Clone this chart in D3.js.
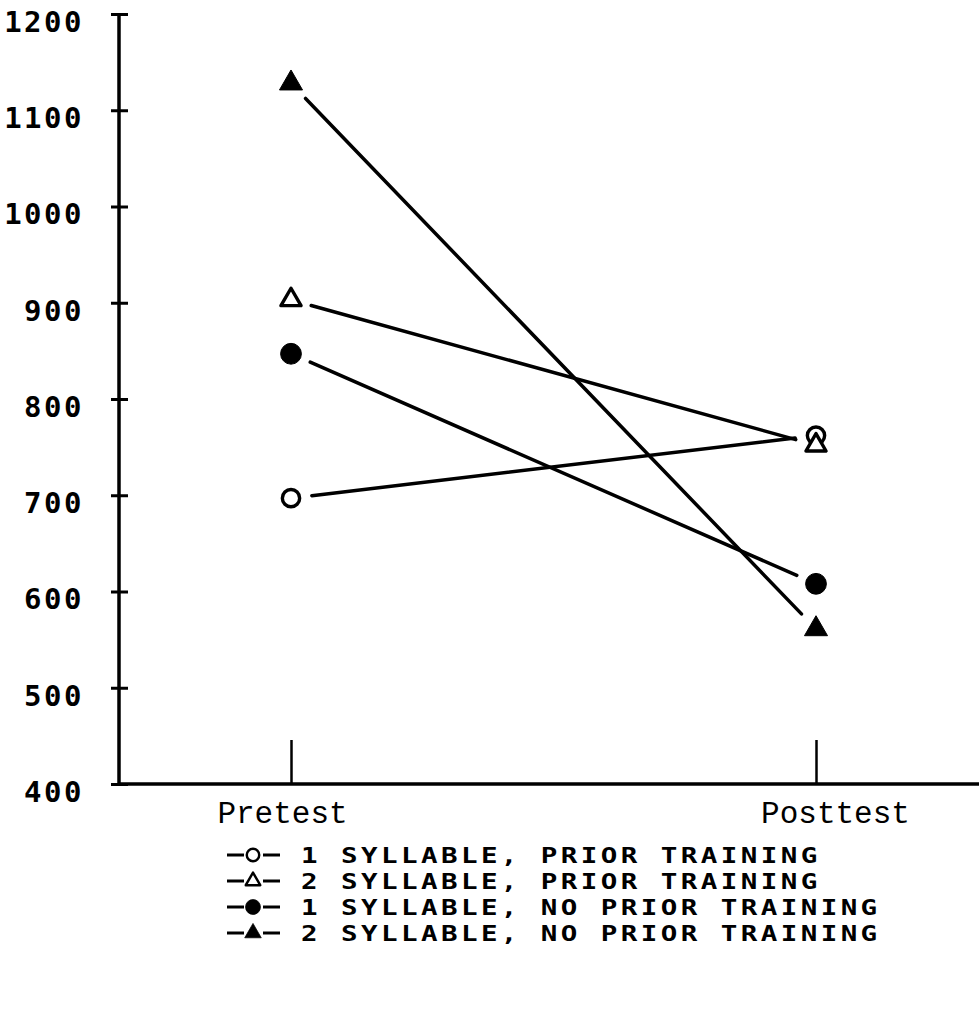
<!DOCTYPE html>
<html>
<head>
<meta charset="utf-8">
<script src="https://cdn.jsdelivr.net/npm/d3@7"></script>
<style>
  body { margin: 0; background: #fff; }
  svg { display: block; }
</style>
</head>
<body>
<svg id="chart" width="979" height="1033"></svg>
<script>
const phases = ['Pretest', 'Posttest'];
const groups = [
  '1 SYLLABLE, PRIOR TRAINING',
  '2 SYLLABLE, PRIOR TRAINING',
  '1 SYLLABLE, NO PRIOR TRAINING',
  '2 SYLLABLE, NO PRIOR TRAINING'
];
const pretest = [697, 903, 847, 1128];
const posttest = [762, 752, 608, 561];
const yTicks = [400, 500, 600, 700, 800, 900, 1000, 1100, 1200];

// marker style for each group: [shape, filled]
const markers = [
  [d3.symbolCircle, false],
  [d3.symbolTriangle, false],
  [d3.symbolCircle, true],
  [d3.symbolTriangle, true]
];

const svg = d3.select('#chart');
const ink = '#000';

const y = d3.scaleLinear().domain([400, 1200]).range([784, 14]);
const x = d3.scalePoint().domain(phases).range([291, 816]);

const axisX = 119;
const baseY = y(400);

// y axis
const gy = svg
  .append('g')
  .attr('transform', 'translate(' + axisX + ',0)')
  .call(
    d3.axisLeft(y)
      .tickValues(yTicks)
      .tickFormat(d3.format('d'))
      .tickSize(8)
      .tickPadding(30)
  );
gy.select('.domain').remove();
gy.append('line')
  .attr('x1', 0)
  .attr('x2', 0)
  .attr('y1', y(1200))
  .attr('y2', baseY)
  .attr('stroke', ink)
  .attr('stroke-width', 3.5);
gy.selectAll('.tick line')
  .attr('x1', -8)
  .attr('x2', 9)
  .attr('stroke', ink)
  .attr('stroke-width', 3);
gy.selectAll('.tick text')
  .attr('fill', ink)
  .attr('dy', '0.6em')
  .attr('dx', 3)
  .style('font-family', '"DejaVu Sans Mono", monospace')
  .style('font-weight', 'bold')
  .style('font-size', '29px')
  .style('letter-spacing', '2.5px');

// x axis
const gx = svg
  .append('g')
  .attr('transform', 'translate(0,' + baseY + ')')
  .call(d3.axisBottom(x).tickSize(-44).tickPadding(17));
gx.select('.domain').remove();
gx.append('line')
  .attr('x1', axisX)
  .attr('x2', 979)
  .attr('y1', 0)
  .attr('y2', 0)
  .attr('stroke', ink)
  .attr('stroke-width', 3.5);
gx.selectAll('.tick line')
  .attr('stroke', ink)
  .attr('stroke-width', 2.5);
gx.selectAll('.tick text')
  .attr('fill', ink)
  .attr('dx', function(d) {
    return d === 'Pretest' ? -9 : 19;
  })
  .attr('dy', '0.71em')
  .style('font-family', '"Liberation Mono", "Courier New", monospace')
  .style('font-size', '31px');

// lines between pretest and posttest, with a gap at each marker
const gap = 21;
const pairs = groups.map(function(g, i) {
  return { name: g, i: i, a: [x('Pretest'), y(pretest[i])], b: [x('Posttest'), y(posttest[i])] };
});

svg
  .append('g')
  .selectAll('line')
  .data(pairs)
  .enter()
  .append('line')
  .each(function(d) {
    const dx = d.b[0] - d.a[0];
    const dy = d.b[1] - d.a[1];
    const len = Math.sqrt(dx * dx + dy * dy);
    const ux = dx / len;
    const uy = dy / len;
    d3.select(this)
      .attr('x1', d.a[0] + ux * gap)
      .attr('y1', d.a[1] + uy * gap)
      .attr('x2', d.b[0] - ux * gap)
      .attr('y2', d.b[1] - uy * gap);
  })
  .attr('stroke', ink)
  .attr('stroke-width', 3.5)
  .attr('stroke-linecap', 'round');

function markerPath(i) {
  const m = markers[i];
  let size;
  if (m[0] === d3.symbolCircle) size = m[1] ? 340 : 235;
  else size = m[1] ? 230 : 175;
  return d3.symbol().type(m[0]).size(size)();
}

function drawMarker(sel, i) {
  const filled = markers[i][1];
  sel
    .append('path')
    .attr('d', markerPath(i))
    .attr('fill', filled ? ink : '#fff')
    .attr('stroke', ink)
    .attr('stroke-width', filled ? 1 : 3.4)
    .attr('stroke-linejoin', 'round');
}

const points = [];
groups.forEach(function(g, i) {
  points.push({ i: i, x: x('Pretest'), y: y(pretest[i]) });
  points.push({ i: i, x: x('Posttest'), y: y(posttest[i]) });
});

svg
  .append('g')
  .selectAll('g')
  .data(points)
  .enter()
  .append('g')
  .attr('transform', function(d) {
    return 'translate(' + d.x + ',' + d.y + ')';
  })
  .each(function(d) {
    drawMarker(d3.select(this), d.i);
  });

// legend
const legend = svg
  .append('g')
  .attr('transform', 'translate(0,855)');

const rows = legend
  .selectAll('g')
  .data(groups)
  .enter()
  .append('g')
  .attr('transform', function(d, i) {
    return 'translate(0,' + i * 26 + ')';
  });

rows
  .append('line')
  .attr('x1', 227)
  .attr('x2', 244)
  .attr('stroke', ink)
  .attr('stroke-width', 3);
rows
  .append('line')
  .attr('x1', 263)
  .attr('x2', 280)
  .attr('stroke', ink)
  .attr('stroke-width', 3);
rows
  .append('g')
  .attr('transform', 'translate(253,0) scale(0.72)')
  .each(function(d, i) {
    drawMarker(d3.select(this), i);
  });
rows
  .append('g')
  .attr('transform', 'translate(301,0) scale(1.25,1)')
  .append('text')
  .attr('dy', '0.36em')
  .attr('fill', ink)
  .style('font-family', '"DejaVu Sans Mono", monospace')
  .style('font-weight', 'bold')
  .style('font-size', '22px')
  .style('letter-spacing', '2.75px')
  .text(function(d) {
    return d;
  });
</script>
</body>
</html>
